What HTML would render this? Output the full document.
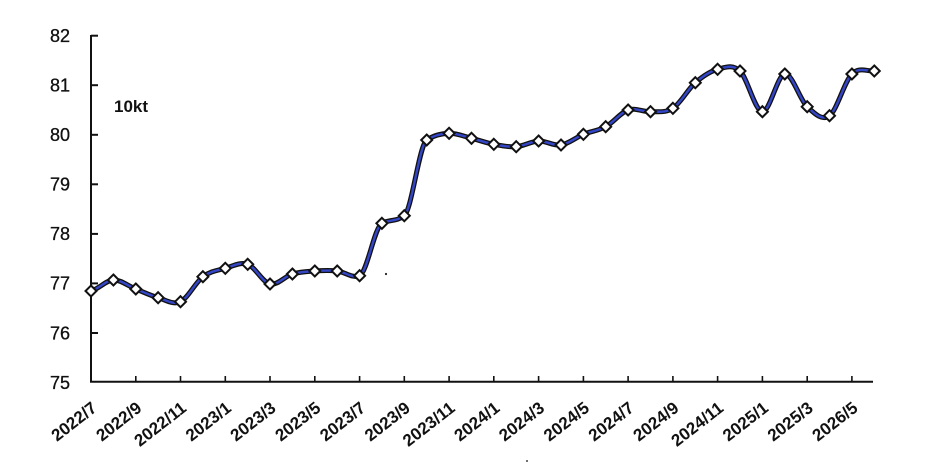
<!DOCTYPE html>
<html><head><meta charset="utf-8"><style>
html,body{margin:0;padding:0;background:#fff;}
svg{display:block;}
text{font-family:"Liberation Sans",Arial,sans-serif;fill:#111;}
</style></head><body>
<svg width="945" height="470" viewBox="0 0 945 470" xmlns="http://www.w3.org/2000/svg">
<rect width="945" height="470" fill="#fff"/>
<!-- axes -->
<g stroke="#111" stroke-width="2" fill="none">
<line x1="91" y1="35" x2="91" y2="382.5"/>
<line x1="90" y1="381.7" x2="873" y2="381.7"/>
<line x1="91" y1="35.7" x2="98" y2="35.7"/>
<line x1="91" y1="85.2" x2="98" y2="85.2"/>
<line x1="91" y1="134.8" x2="98" y2="134.8"/>
<line x1="91" y1="184.3" x2="98" y2="184.3"/>
<line x1="91" y1="233.9" x2="98" y2="233.9"/>
<line x1="91" y1="283.4" x2="98" y2="283.4"/>
<line x1="91" y1="333.0" x2="98" y2="333.0"/>
</g>
<g stroke="#111" stroke-width="1.6">
<line x1="135.8" y1="382" x2="135.8" y2="376"/>
<line x1="180.5" y1="382" x2="180.5" y2="376"/>
<line x1="225.3" y1="382" x2="225.3" y2="376"/>
<line x1="270.0" y1="382" x2="270.0" y2="376"/>
<line x1="314.8" y1="382" x2="314.8" y2="376"/>
<line x1="359.6" y1="382" x2="359.6" y2="376"/>
<line x1="404.3" y1="382" x2="404.3" y2="376"/>
<line x1="449.1" y1="382" x2="449.1" y2="376"/>
<line x1="493.8" y1="382" x2="493.8" y2="376"/>
<line x1="538.6" y1="382" x2="538.6" y2="376"/>
<line x1="583.4" y1="382" x2="583.4" y2="376"/>
<line x1="628.1" y1="382" x2="628.1" y2="376"/>
<line x1="672.9" y1="382" x2="672.9" y2="376"/>
<line x1="717.6" y1="382" x2="717.6" y2="376"/>
<line x1="762.4" y1="382" x2="762.4" y2="376"/>
<line x1="807.2" y1="382" x2="807.2" y2="376"/>
<line x1="851.9" y1="382" x2="851.9" y2="376"/>
</g>
<!-- y labels -->
<g font-size="18" text-anchor="end" stroke="#111" stroke-width="0.3">
<text x="70" y="42">82</text>
<text x="70" y="91.5">81</text>
<text x="70" y="141.1">80</text>
<text x="70" y="190.6">79</text>
<text x="70" y="240.2">78</text>
<text x="70" y="289.7">77</text>
<text x="70" y="339.3">76</text>
<text x="70" y="388.8">75</text>
</g>
<text x="114" y="112" font-size="17" font-weight="bold">10kt</text>
<!-- x labels -->
<g font-size="17" font-weight="bold" text-anchor="end">
<text transform="translate(98,410) rotate(-38)">2022/7</text>
<text transform="translate(142.8,410) rotate(-38)">2022/9</text>
<text transform="translate(187.5,410) rotate(-38)">2022/11</text>
<text transform="translate(232.3,410) rotate(-38)">2023/1</text>
<text transform="translate(277.0,410) rotate(-38)">2023/3</text>
<text transform="translate(321.8,410) rotate(-38)">2023/5</text>
<text transform="translate(366.6,410) rotate(-38)">2023/7</text>
<text transform="translate(411.3,410) rotate(-38)">2023/9</text>
<text transform="translate(456.1,410) rotate(-38)">2023/11</text>
<text transform="translate(500.8,410) rotate(-38)">2024/1</text>
<text transform="translate(545.6,410) rotate(-38)">2024/3</text>
<text transform="translate(590.4,410) rotate(-38)">2024/5</text>
<text transform="translate(635.1,410) rotate(-38)">2024/7</text>
<text transform="translate(679.9,410) rotate(-38)">2024/9</text>
<text transform="translate(724.6,410) rotate(-38)">2024/11</text>
<text transform="translate(769.4,410) rotate(-38)">2025/1</text>
<text transform="translate(814.2,410) rotate(-38)">2025/3</text>
<text transform="translate(858.9,410) rotate(-38)">2026/5</text>
</g>
<!-- series -->
<path d="M91,291 C98.5,289.2 105.9,280.3 113.4,280 C120.9,279.7 128.3,286.1 135.8,289 C143.3,292 150.6,295.6 158.1,297.7 C165.6,299.8 173,305.2 180.5,301.7 C188,298.2 195.4,282.3 202.9,276.7 C210.4,271.1 217.8,270.4 225.3,268.3 C232.8,266.2 240.2,261.7 247.7,264.3 C255.2,266.9 262.5,282.4 270,284 C277.5,285.6 284.9,276.2 292.4,274 C299.9,271.8 307.3,271.5 314.8,271 C322.3,270.5 329.7,270.2 337.2,271 C344.7,271.8 352.1,278.7 359.6,275.7 C367.1,272.7 374.4,227.3 381.9,223.3 C389.4,219.3 396.8,221.7 404.3,215.7 C411.8,209.7 419.2,145 426.7,140 C434.2,135 441.6,133.6 449.1,133.3 C456.6,133 464,136.5 471.5,138.3 C479,140.1 486.3,142.9 493.8,144.3 C501.3,145.7 508.7,147.3 516.2,146.7 C523.7,146.2 531.1,141.3 538.6,141 C546.1,140.7 553.5,146.1 561,145 C568.5,143.9 575.9,137.4 583.4,134.3 C590.9,131.3 598.2,130.8 605.7,126.7 C613.2,122.7 620.6,112.5 628.1,110 C635.6,107.5 643,112 650.5,111.7 C658,111.4 665.4,113.1 672.9,108.3 C680.4,103.5 687.8,89.2 695.3,82.7 C702.8,76.2 710.1,71.3 717.6,69.3 C725.1,67.4 732.5,63.9 740,71 C747.5,78.1 754.9,111.2 762.4,111.7 C769.9,112.2 777.3,74.8 784.8,74 C792.3,73.2 799.7,99.8 807.2,106.7 C814.7,113.7 822,121.2 829.5,115.7 C837,110.3 844.4,81.5 851.9,74 C859.4,66.6 866.8,71.5 874.3,71" fill="none" stroke="#111" stroke-width="5" stroke-linejoin="round"/>
<path d="M91,291 C98.5,289.2 105.9,280.3 113.4,280 C120.9,279.7 128.3,286.1 135.8,289 C143.3,292 150.6,295.6 158.1,297.7 C165.6,299.8 173,305.2 180.5,301.7 C188,298.2 195.4,282.3 202.9,276.7 C210.4,271.1 217.8,270.4 225.3,268.3 C232.8,266.2 240.2,261.7 247.7,264.3 C255.2,266.9 262.5,282.4 270,284 C277.5,285.6 284.9,276.2 292.4,274 C299.9,271.8 307.3,271.5 314.8,271 C322.3,270.5 329.7,270.2 337.2,271 C344.7,271.8 352.1,278.7 359.6,275.7 C367.1,272.7 374.4,227.3 381.9,223.3 C389.4,219.3 396.8,221.7 404.3,215.7 C411.8,209.7 419.2,145 426.7,140 C434.2,135 441.6,133.6 449.1,133.3 C456.6,133 464,136.5 471.5,138.3 C479,140.1 486.3,142.9 493.8,144.3 C501.3,145.7 508.7,147.3 516.2,146.7 C523.7,146.2 531.1,141.3 538.6,141 C546.1,140.7 553.5,146.1 561,145 C568.5,143.9 575.9,137.4 583.4,134.3 C590.9,131.3 598.2,130.8 605.7,126.7 C613.2,122.7 620.6,112.5 628.1,110 C635.6,107.5 643,112 650.5,111.7 C658,111.4 665.4,113.1 672.9,108.3 C680.4,103.5 687.8,89.2 695.3,82.7 C702.8,76.2 710.1,71.3 717.6,69.3 C725.1,67.4 732.5,63.9 740,71 C747.5,78.1 754.9,111.2 762.4,111.7 C769.9,112.2 777.3,74.8 784.8,74 C792.3,73.2 799.7,99.8 807.2,106.7 C814.7,113.7 822,121.2 829.5,115.7 C837,110.3 844.4,81.5 851.9,74 C859.4,66.6 866.8,71.5 874.3,71" fill="none" stroke="#3446c8" stroke-width="2.4" stroke-linejoin="round"/>
<!-- markers -->
<g fill="#fff" stroke="#111" stroke-width="2">
<path d="M91,285.5l5.5,5.5l-5.5,5.5l-5.5,-5.5z"/>
<path d="M113.4,274.5l5.5,5.5l-5.5,5.5l-5.5,-5.5z"/>
<path d="M135.8,283.5l5.5,5.5l-5.5,5.5l-5.5,-5.5z"/>
<path d="M158.1,292.2l5.5,5.5l-5.5,5.5l-5.5,-5.5z"/>
<path d="M180.5,296.2l5.5,5.5l-5.5,5.5l-5.5,-5.5z"/>
<path d="M202.9,271.2l5.5,5.5l-5.5,5.5l-5.5,-5.5z"/>
<path d="M225.3,262.8l5.5,5.5l-5.5,5.5l-5.5,-5.5z"/>
<path d="M247.7,258.8l5.5,5.5l-5.5,5.5l-5.5,-5.5z"/>
<path d="M270,278.5l5.5,5.5l-5.5,5.5l-5.5,-5.5z"/>
<path d="M292.4,268.5l5.5,5.5l-5.5,5.5l-5.5,-5.5z"/>
<path d="M314.8,265.5l5.5,5.5l-5.5,5.5l-5.5,-5.5z"/>
<path d="M337.2,265.5l5.5,5.5l-5.5,5.5l-5.5,-5.5z"/>
<path d="M359.6,270.2l5.5,5.5l-5.5,5.5l-5.5,-5.5z"/>
<path d="M381.9,217.8l5.5,5.5l-5.5,5.5l-5.5,-5.5z"/>
<path d="M404.3,210.2l5.5,5.5l-5.5,5.5l-5.5,-5.5z"/>
<path d="M426.7,134.5l5.5,5.5l-5.5,5.5l-5.5,-5.5z"/>
<path d="M449.1,127.8l5.5,5.5l-5.5,5.5l-5.5,-5.5z"/>
<path d="M471.5,132.8l5.5,5.5l-5.5,5.5l-5.5,-5.5z"/>
<path d="M493.8,138.8l5.5,5.5l-5.5,5.5l-5.5,-5.5z"/>
<path d="M516.2,141.2l5.5,5.5l-5.5,5.5l-5.5,-5.5z"/>
<path d="M538.6,135.5l5.5,5.5l-5.5,5.5l-5.5,-5.5z"/>
<path d="M561,139.5l5.5,5.5l-5.5,5.5l-5.5,-5.5z"/>
<path d="M583.4,128.8l5.5,5.5l-5.5,5.5l-5.5,-5.5z"/>
<path d="M605.7,121.2l5.5,5.5l-5.5,5.5l-5.5,-5.5z"/>
<path d="M628.1,104.5l5.5,5.5l-5.5,5.5l-5.5,-5.5z"/>
<path d="M650.5,106.2l5.5,5.5l-5.5,5.5l-5.5,-5.5z"/>
<path d="M672.9,102.8l5.5,5.5l-5.5,5.5l-5.5,-5.5z"/>
<path d="M695.3,77.2l5.5,5.5l-5.5,5.5l-5.5,-5.5z"/>
<path d="M717.6,63.8l5.5,5.5l-5.5,5.5l-5.5,-5.5z"/>
<path d="M740,65.5l5.5,5.5l-5.5,5.5l-5.5,-5.5z"/>
<path d="M762.4,106.2l5.5,5.5l-5.5,5.5l-5.5,-5.5z"/>
<path d="M784.8,68.5l5.5,5.5l-5.5,5.5l-5.5,-5.5z"/>
<path d="M807.2,101.2l5.5,5.5l-5.5,5.5l-5.5,-5.5z"/>
<path d="M829.5,110.2l5.5,5.5l-5.5,5.5l-5.5,-5.5z"/>
<path d="M851.9,68.5l5.5,5.5l-5.5,5.5l-5.5,-5.5z"/>
<path d="M874.3,65.5l5.5,5.5l-5.5,5.5l-5.5,-5.5z"/>
</g>
<circle cx="386" cy="274" r="1.1" fill="#222"/>
<circle cx="527" cy="461" r="1" fill="#444"/>
</svg>
</body></html>
